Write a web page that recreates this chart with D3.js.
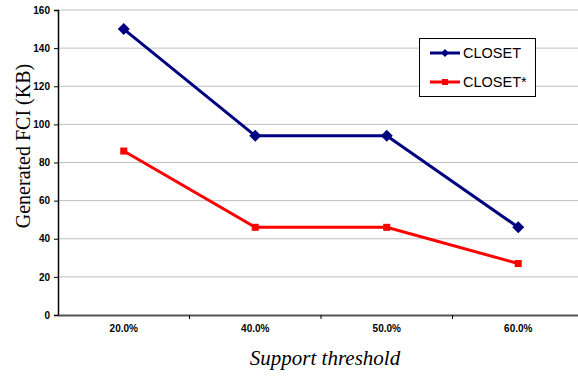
<!DOCTYPE html>
<html><head><meta charset="utf-8">
<script src="https://cdn.jsdelivr.net/npm/d3@7"></script>
<style>body{margin:0;background:#fff}svg{display:block}</style>
</head><body>
<svg id="c" width="578" height="376"></svg>
<script>
const categories = ["20.0%", "40.0%", "50.0%", "60.0%"];
const closet = [150, 94, 94, 46];
const closetStar = [86, 46, 46, 27];
const yTicks = [0, 20, 40, 60, 80, 100, 120, 140, 160];
const seriesNames = ["CLOSET", "CLOSET*"];

(function () {
const svg = d3.select("#c");
const mLeft = 58, mRight = 584, mTop = 10, mBottom = 315;
const x = d3.scaleBand().domain(categories).range([mLeft, mRight]);
const y = d3.scaleLinear().domain([0, 160]).range([mBottom, mTop]);
const sans = "Arial, 'Liberation Sans', sans-serif";
const serif = "'Liberation Serif', 'Times New Roman', serif";

// gridlines
svg.append("g").selectAll("line").data(yTicks.filter(d => d > 0)).join("line")
  .attr("x1", mLeft).attr("x2", 578).attr("y1", d => y(d)).attr("y2", d => y(d))
  .attr("stroke", "#c0c0c0").attr("stroke-width", 1);

// y axis
const ya = svg.append("g").attr("transform", `translate(${mLeft},0)`)
  .call(d3.axisLeft(y).tickValues(yTicks).tickSize(4).tickPadding(4));
ya.select(".domain").attr("stroke", "#000").attr("stroke-width", 1.5);
ya.selectAll("line").attr("stroke", "#000");
ya.selectAll("text").attr("font-family", sans)
  .attr("font-size", 10).attr("font-weight", "bold").attr("fill", "#000");

// x axis
const xa = svg.append("g").attr("transform", `translate(0,${mBottom})`)
  .call(d3.axisBottom(x).tickSize(0).tickPadding(10));
xa.select(".domain").attr("stroke", "#555").attr("stroke-width", 2);
xa.selectAll("text").attr("font-family", sans)
  .attr("font-size", 10).attr("font-weight", "bold").attr("fill", "#000");
// category separator ticks
svg.append("g").selectAll("line").data(categories.slice(1)).join("line")
  .attr("x1", d => x(d)).attr("x2", d => x(d)).attr("y1", mBottom).attr("y2", mBottom + 4)
  .attr("stroke", "#000");

const cx = d => x(d) + x.bandwidth() / 2;
const line = d3.line().x((d, i) => cx(categories[i])).y(d => y(d));

svg.append("path").datum(closet).attr("d", line).attr("fill", "none")
  .attr("stroke", "#000080").attr("stroke-width", 3);
svg.append("path").datum(closetStar).attr("d", line).attr("fill", "none")
  .attr("stroke", "#ff0000").attr("stroke-width", 3);

svg.append("g").selectAll("path").data(closet).join("path")
  .attr("d", d3.symbol().type(d3.symbolSquare).size(72))
  .attr("transform", (d, i) => `translate(${cx(categories[i])},${y(d)}) rotate(45)`)
  .attr("fill", "#000080");
svg.append("g").selectAll("rect").data(closetStar).join("rect")
  .attr("x", (d, i) => cx(categories[i]) - 3.5).attr("y", d => y(d) - 3.5)
  .attr("width", 7).attr("height", 7).attr("fill", "#ff0000");

// legend
const lg = svg.append("g");
lg.append("rect").attr("x", 419.5).attr("y", 38.5).attr("width", 116).attr("height", 58)
  .attr("fill", "#fff").attr("stroke", "#000").attr("stroke-width", 1);
const lcol = ["#000080", "#ff0000"];
seriesNames.forEach((n, i) => {
  const ly = 53 + i * 29;
  lg.append("line").attr("x1", 430).attr("x2", 460).attr("y1", ly).attr("y2", ly)
    .attr("stroke", lcol[i]).attr("stroke-width", 3);
  if (i === 0) {
    lg.append("path").attr("d", d3.symbol().type(d3.symbolSquare).size(32))
      .attr("transform", `translate(445,${ly}) rotate(45)`).attr("fill", lcol[i]);
  } else {
    lg.append("rect").attr("x", 442).attr("y", ly - 3).attr("width", 6).attr("height", 6).attr("fill", lcol[i]);
  }
  lg.append("text").attr("x", 463).attr("y", ly).attr("dy", "0.36em")
    .attr("font-family", sans).attr("font-size", 14.5)
    .attr("fill", "#000").text(n);
});

// axis titles
svg.append("text").attr("x", 325).attr("y", 365).attr("text-anchor", "middle")
  .attr("font-family", serif).attr("font-style", "italic")
  .attr("font-size", 21).text("Support threshold");
svg.append("text").attr("transform", "translate(30,146) rotate(-90)").attr("text-anchor", "middle")
  .attr("font-family", serif)
  .attr("font-size", 20).text("Generated FCI (KB)");
})();
</script>
</body></html>
